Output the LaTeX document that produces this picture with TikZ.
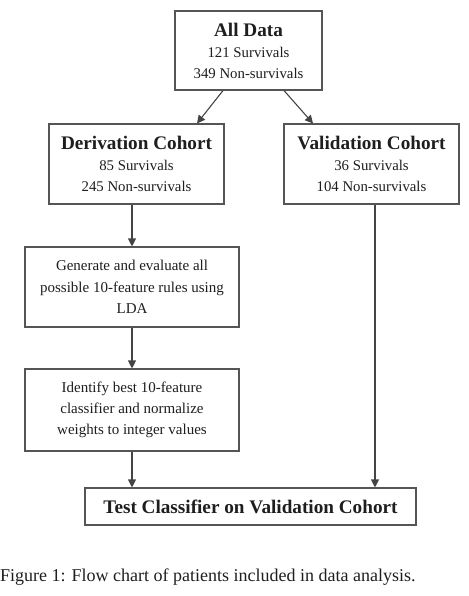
\documentclass[tikz,border=0pt]{standalone}
\usepackage{fontspec}
\setmainfont{Liberation Serif}
\usetikzlibrary{arrows.meta}
\definecolor{boxline}{RGB}{85,85,85}
\definecolor{txt}{RGB}{30,30,30}
\tikzset{
  box/.style={draw=boxline, line width=1.1pt, rectangle, align=center, inner sep=0pt, text=txt,
    font=\fontsize{14.8}{21}\selectfont},
  arr/.style={draw=boxline!80!black, line width=1.1pt, -{Triangle[length=8pt,width=8pt]}}
}
\newcommand{\ttlfont}{\fontsize{19.2}{21}\selectfont\bfseries}
\begin{document}
\begin{tikzpicture}[x=1pt,y=-1pt]
\useasboundingbox (0,0) rectangle (468,596);
\node[box, minimum width=147pt, minimum height=79pt] (all) at (248.5,50.5)
  {{\ttlfont All Data}\\121 Survivals\\349 Non-survivals};
\node[box, minimum width=175pt, minimum height=80pt] (deriv) at (136.5,164)
  {{\ttlfont Derivation Cohort}\\85 Survivals\\245 Non-survivals};
\node[box, minimum width=175pt, minimum height=80pt] (valid) at (371.5,164)
  {{\ttlfont Validation Cohort}\\36 Survivals\\104 Non-survivals};
\node[box, minimum width=214pt, minimum height=80pt, font=\fontsize{15}{21.5}\selectfont] (gen) at (132,287)
  {Generate and evaluate all\\possible 10-feature rules using\\LDA};
\node[box, minimum width=214pt, minimum height=82pt, font=\fontsize{15}{21}\selectfont] (ident) at (132,410)
  {Identify best 10-feature\\classifier and normalize\\weights to integer values};
\node[box, minimum width=331pt, minimum height=37pt, font=\fontsize{19.2}{21}\selectfont\bfseries] (test) at (250.5,506.5)
  {Test Classifier on Validation Cohort};
\node[anchor=base west, inner sep=0pt, text=txt, font=\fontsize{18}{20}\selectfont] (cap) at (0,581.5)
  {Figure 1: Flow chart of patients included in data analysis.};
\coordinate (vs) at ([xshift=3.5pt]valid.south);
\draw[arr] ([xshift=-25.5pt]all.south) -- ([xshift=60.5pt]deriv.north);
\draw[arr] ([xshift=35.5pt]all.south) -- ([xshift=-58.5pt]valid.north);
\draw[arr] (gen.north |- deriv.south) -- (gen.north);
\draw[arr] (gen.south) -- (ident.north);
\draw[arr] (ident.south) -- (test.north -| ident.south);
\draw[arr] (vs) -- (test.north -| vs);
\end{tikzpicture}
\end{document}
